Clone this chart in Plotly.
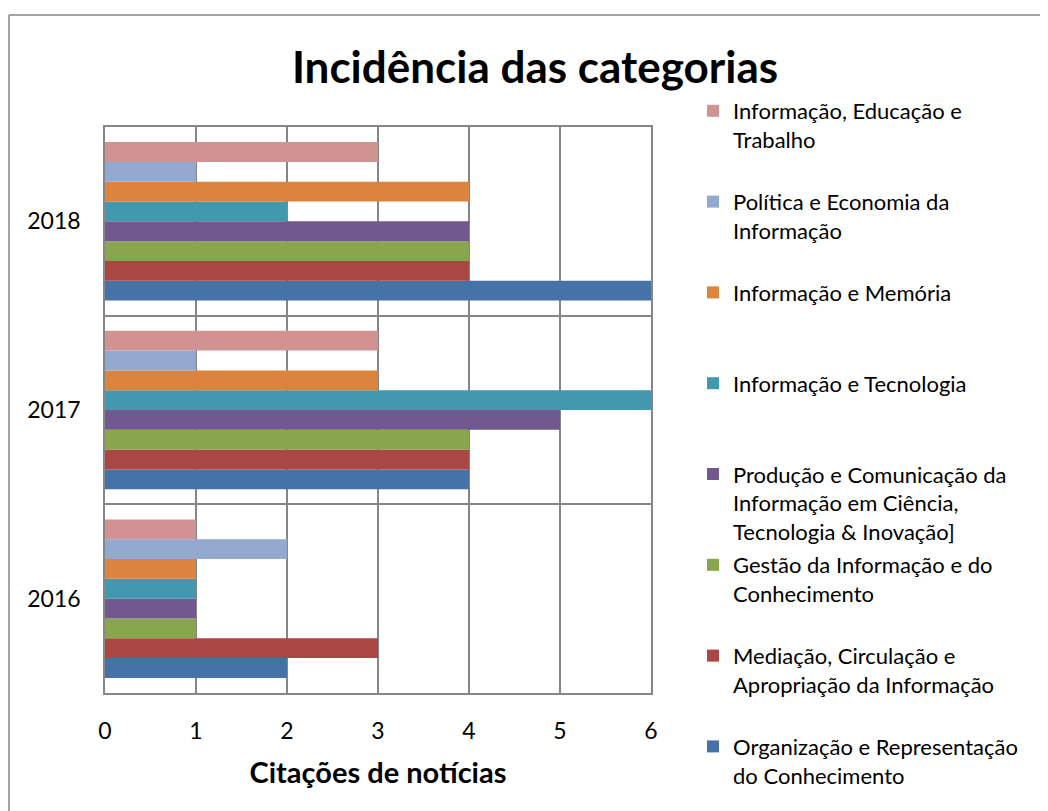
import plotly.graph_objects as go

years = ["2016", "2017", "2018"]
series_names = [
    "Organização e Representação<br>do Conhecimento",
    "Mediação, Circulação e<br>Apropriação da Informação",
    "Gestão da Informação e do<br>Conhecimento",
    "Produção e Comunicação da<br>Informação em Ciência,<br>Tecnologia & Inovação]",
    "Informação e Tecnologia",
    "Informação e Memória",
    "Política e Economia da<br>Informação",
    "Informação, Educação e<br>Trabalho",
]
organizacao = [2, 4, 6]
mediacao = [3, 4, 4]
gestao = [1, 4, 4]
producao = [1, 5, 4]
tecnologia = [1, 6, 2]
memoria = [1, 3, 4]
politica = [2, 1, 1]
educacao = [1, 3, 3]
series_values = [organizacao, mediacao, gestao, producao, tecnologia, memoria, politica, educacao]
colors = ["#4572A7", "#AA4643", "#89A54E", "#71588F", "#4198AF", "#DB843D", "#93A9CF", "#D19392"]
x_ticks = [0, 1, 2, 3, 4, 5, 6]

FONT = "Lato"
OFF = 8  # page body margin
W, H = 1048 - OFF, 811 - OFF
# plot area in page pixels
PL, PR, PT, PB = 105, 651, 127, 693
L, R, T, B = PL - OFF, PR - OFF, PT - OFF, PB - OFF

fig = go.Figure()
n = len(series_names)
for i, (name, vals, col) in enumerate(zip(series_names, series_values, colors)):
    nlines = name.count("<br>") + 1
    label = name if i == 0 else name + "<br> " * (3 - nlines)
    fig.add_trace(go.Bar(
        y=years, x=vals, orientation="h", name=label,
        marker=dict(color=col, line=dict(width=0)),
        legendgroup=f"g{i}", legendrank=n - i,
    ))

gray = "#868686"
pw, ph = R - L, B - T
def px_x(p):  # page px -> paper
    return (p - OFF - L) / pw
def px_y(p):
    return (B - (p - OFF)) / ph

fig.update_layout(
    width=W, height=H,
    margin=dict(l=L, r=W - R, t=T, b=H - B),
    paper_bgcolor="white", plot_bgcolor="white",
    barmode="group", bargap=0.16, bargroupgap=0,
    font=dict(family=FONT, color="black"),
    title=dict(text="<b>Incidência das categorias</b>", x=(535 - OFF) / W, xanchor="center",
               y=1 - (68 - OFF) / H, yanchor="middle", yref="container",
               font=dict(family=FONT, size=44, color="black")),
    xaxis=dict(range=[0, 6], tickvals=x_ticks, showgrid=True, gridcolor=gray, gridwidth=1.5,
               showline=True, linecolor=gray, linewidth=1.5, mirror=True, zeroline=False,
               ticks="", tickfont=dict(family=FONT, size=23, color="black"),
               ticklabelstandoff=17,
               title=dict(text="<b>Citações de notícias</b>", standoff=19,
                          font=dict(family=FONT, size=29, color="black"))),
    yaxis=dict(type="category", categoryorder="array", categoryarray=years,
               range=[-0.5, 2.5], tickson="boundaries", showgrid=True, gridcolor=gray, gridwidth=1.5,
               showline=True, linecolor=gray, linewidth=1.5, mirror=True, ticks="",
               tickfont=dict(family=FONT, size=23, color="black"), ticklabelstandoff=18),
    legend=dict(x=px_x(693), xanchor="left", y=px_y(90), yanchor="top",
                traceorder="grouped", tracegroupgap=2, valign="top",
                font=dict(family=FONT, size=22, color="black"),
                bgcolor="rgba(0,0,0,0)", itemclick=False, maxheight=1),
    shapes=[
        dict(type="line", xref="paper", yref="paper", x0=px_x(9), x1=px_x(1070),
             y0=px_y(15), y1=px_y(15), line=dict(color=gray, width=1.5)),
        dict(type="line", xref="paper", yref="paper", x0=px_x(9), x1=px_x(9),
             y0=px_y(15), y1=px_y(830), line=dict(color=gray, width=1.5)),
    ],
    showlegend=True,
)

fig.write_html("out.html")
